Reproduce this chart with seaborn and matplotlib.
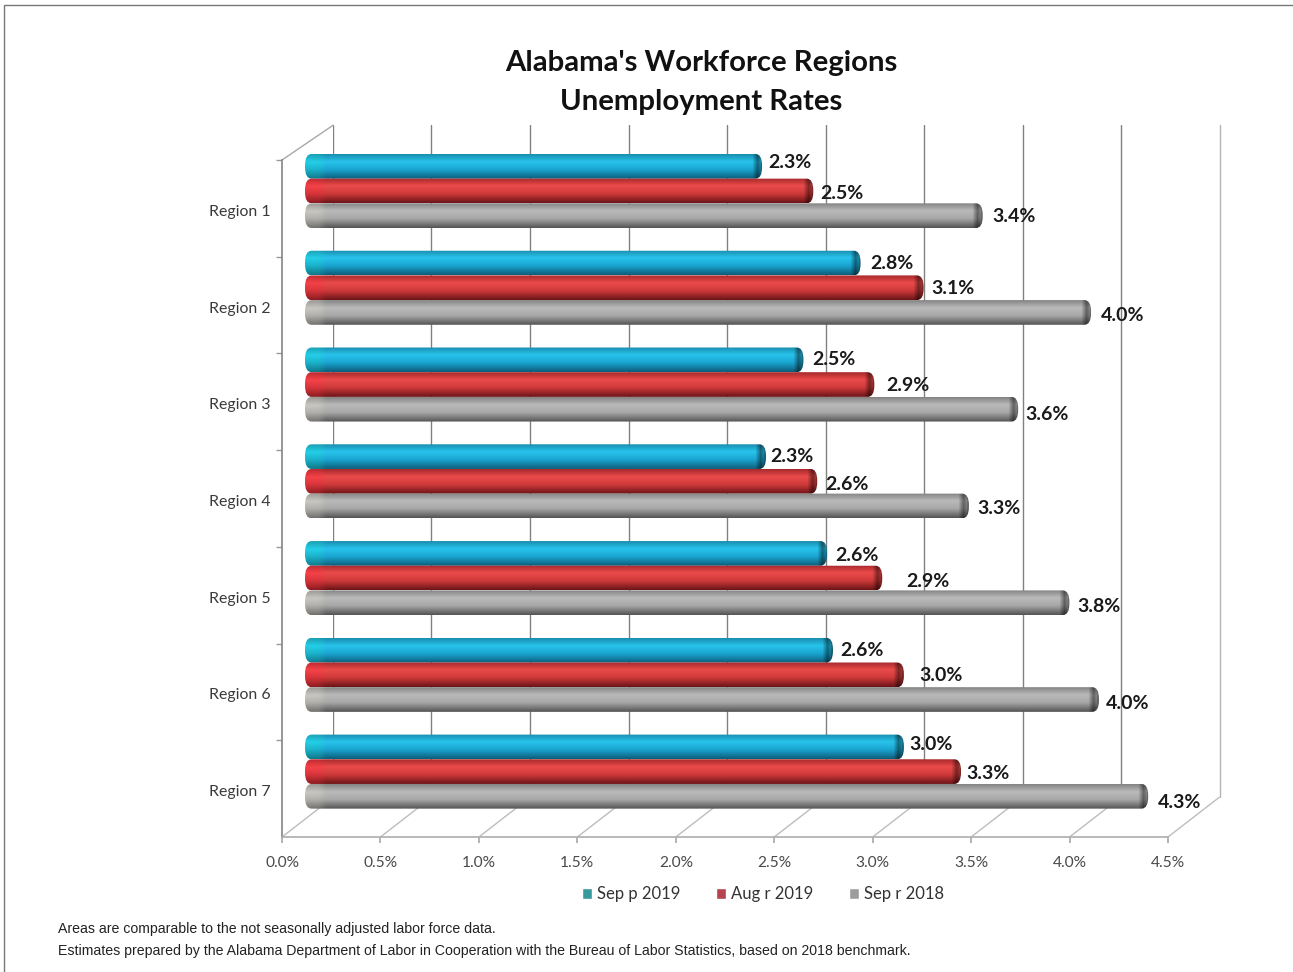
import numpy as np
import pandas as pd
import matplotlib
matplotlib.use('Agg')
import matplotlib.pyplot as plt
from matplotlib.colors import to_rgb
from matplotlib.patches import FancyBboxPatch, Rectangle
from matplotlib.transforms import ScaledTranslation
import seaborn as sns

regions = ['Region 1', 'Region 2', 'Region 3', 'Region 4', 'Region 5', 'Region 6', 'Region 7']
series = ['Sep p 2019', 'Aug r 2019', 'Sep r 2018']

# bar lengths as drawn in the picture, they differ a bit from the printed labels
sep_2019 = [2.32, 2.82, 2.53, 2.34, 2.65, 2.68, 3.04]
aug_2019 = [2.58, 3.14, 2.89, 2.60, 2.93, 3.04, 3.33]
sep_2018 = [3.44, 3.99, 3.62, 3.37, 3.88, 4.03, 4.28]

sep_2019_labels = ['2.3%', '2.8%', '2.5%', '2.3%', '2.6%', '2.6%', '3.0%']
aug_2019_labels = ['2.5%', '3.1%', '2.9%', '2.6%', '2.9%', '3.0%', '3.3%']
sep_2018_labels = ['3.4%', '4.0%', '3.6%', '3.3%', '3.8%', '4.0%', '4.3%']

x_ticks = [0.0, 0.5, 1.0, 1.5, 2.0, 2.5, 3.0, 3.5, 4.0, 4.5]

# hand placed data labels (pixels from the bar end, Excel moved them around)
nudge_x = [[6, 10, 9, 4, 8, 7, 5], [7, 8, 12, 8, 24, 15, 5], [10, 10, 7, 8, 8, 7, 10]]
nudge_y = [[-4, 0, 0, 0, 2, 0, -2], [3, 1, 1, 3, 3, 1, 2], [1, 3, 5, 3, 4, 4, 6]]

legend_colors = ['#25a9ad', '#c9303f', '#9c9c9c']
# top edge, highlight, mid, bottom edge, one ramp for each cylinder
ramps = [['#1a8fb0', '#27c3ec', '#1aa6d2', '#0d5f7c'],
         ['#a92a2c', '#ea4b4a', '#d03a3a', '#6e1518'],
         ['#858585', '#bababa', '#a8a8a8', '#565656']]
left_tints = ['#1cc0c4', '#e0303c', '#bdb9b0']

W, H = 1293, 972


def px_axes(fig, x0, x1, y0, y1, z):
    return fig.add_axes([x0 / W, 1 - y1 / H, (x1 - x0) / W, (y1 - y0) / H], zorder=z)


sns.set_theme(style='white')
plt.rcParams['font.family'] = ['Lato', 'DejaVu Sans']

fig = plt.figure(figsize=(W / 100, H / 100), dpi=100, facecolor='white')
fig.add_artist(Rectangle((4 / W, -0.01), 1.02, 1 - 5 / H + 0.01, transform=fig.transFigure,
                         fill=False, edgecolor='#777777', linewidth=1.0))

# back wall
ax_wall = px_axes(fig, 333, 1219.5, 125, 797, 0)
ax_wall.set_xlim(0, 4.5)
ax_wall.set_xticks(x_ticks)
ax_wall.set_yticks([])
ax_wall.tick_params(labelbottom=False, length=0)
ax_wall.grid(axis='x', color='#808080', linewidth=1.0)
ax_wall.get_xgridlines()[-1].set_clip_on(False)
ax_wall.get_xgridlines()[-1].set_color('#b4b4b4')
sns.despine(ax=ax_wall, left=True, bottom=True)
ax_wall.patch.set_alpha(0)

# front frame with the ticks and the floor
ax_front = px_axes(fig, 282, 1168, 160, 837, 1)
ax_front.patch.set_alpha(0)
ax_front.set_xlim(0, 4.5)
ax_front.set_ylim(6.5, -0.5)
ax_front.set_xticks(x_ticks)
ax_front.set_xticklabels([f'{t:.1f}%' for t in x_ticks], fontsize=11.2, color='#4a4a4a')
ax_front.set_yticks(range(len(regions)))
ax_front.set_yticklabels(regions, fontsize=11.4, color='#3a3a3a')
ax_front.set_yticks(np.arange(-0.5, 6.5), minor=True)
ax_front.tick_params(axis='y', which='major', length=0, pad=8.5)
ax_front.tick_params(axis='y', which='minor', left=True, length=4, color='#999999')
ax_front.tick_params(axis='x', bottom=True, length=4, color='#aaaaaa', pad=10)
for label in ax_front.get_yticklabels():
    label.set_transform(label.get_transform() + ScaledTranslation(0, -2 / 100, fig.dpi_scale_trans))
sns.despine(ax=ax_front)
ax_front.spines['left'].set_color('#8a8a8a')
ax_front.spines['bottom'].set_color('#b0b0b0')
for t in x_ticks:
    ax_front.plot([t, t + 0.26], [6.5, 6.09], color='#bdbdbd', linewidth=1.0, clip_on=False)
ax_front.plot([0, 0.26], [-0.5, -0.86], color='#a8a8a8', linewidth=1.0, clip_on=False)

# bars
df = pd.DataFrame({
    'region': regions * 3,
    'series': np.repeat(series, len(regions)),
    'rate': sep_2019 + aug_2019 + sep_2018,
})
ax = px_axes(fig, 305, 1191.5, 142.6, 820, 2)
ax.patch.set_alpha(0)
sns.barplot(data=df, x='rate', y='region', hue='series', hue_order=series, palette=legend_colors,
            orient='h', width=0.765, gap=0, ax=ax, zorder=1)
ax.set_xlim(0, 4.5)
ax.set_ylim(6.5, -0.5)
ax.set_xlabel('')
ax.set_ylabel('')
ax.set_xticks([])
ax.set_yticks([])
sns.despine(ax=ax, left=True, bottom=True)

all_labels = [sep_2019_labels, aug_2019_labels, sep_2018_labels]
for s, container in enumerate(ax.containers):
    stops = np.array([to_rgb(c) for c in ramps[s]])
    tint = np.array(to_rgb(left_tints[s]))
    for i, bar in enumerate(container):
        x0, y0, w, h = bar.get_x(), bar.get_y(), bar.get_width(), bar.get_height()
        bar.set_visible(False)
        # cylinder shading: vertical ramp, soft tint at the near end, darker round cap at the far end
        cols = int(w * 197)
        pos = np.linspace(0, 1, 26)
        ramp = np.stack([np.interp(pos, [0, 0.3, 0.62, 1], stops[:, k]) for k in range(3)], axis=1)
        img = np.repeat(ramp[:, None, :], cols, axis=1)
        shade = 0.6 + 0.55 * (1 - np.abs(pos - 0.35))
        tinted = tint[None, None, :] * shade[:, None, None]
        blend = np.interp(np.arange(cols), [0, 13, 21], [0.5, 0.45, 0])[None, :, None]
        img = img * (1 - blend) + tinted * blend
        dim = np.interp(np.arange(cols), [cols - 11, cols - 6, cols - 3, cols - 1], [1, 0.55, 0.7, 0.5])
        img = img * dim[None, :, None]
        clip = FancyBboxPatch((x0, y0), w, h, boxstyle='round,pad=0,rounding_size=0.033',
                              mutation_aspect=3.6, transform=ax.transData, fill=False, edgecolor='none')
        ax.add_patch(clip)
        im = ax.imshow(np.clip(img, 0, 1), extent=[x0, x0 + w, y0 + h, y0], origin='upper',
                       aspect='auto', zorder=2, interpolation='bilinear')
        im.set_clip_path(clip)
        ax.annotate(all_labels[s][i], (x0 + w, y0 + h / 2), xytext=(nudge_x[s][i], -nudge_y[s][i]),
                    textcoords='offset pixels', ha='left', va='center', fontsize=14,
                    fontweight='bold', color='#1a1a1a', zorder=3, annotation_clip=False)
ax.set_xlim(0, 4.5)
ax.set_ylim(6.5, -0.5)

sns.move_legend(ax, 'center', bbox_to_anchor=(763 / W, 1 - 894 / H), bbox_transform=fig.transFigure,
                ncol=3, frameon=False, title=None, fontsize=12, handlelength=0.62, handleheight=0.62,
                handletextpad=0.3, columnspacing=2.13, labelcolor='#333333')

fig.text(701 / W, 1 - 63 / H, "Alabama's Workforce Regions", ha='center', va='center',
         fontsize=21.1, fontweight='bold', color='#111111')
fig.text(701 / W, 1 - 102 / H, 'Unemployment Rates', ha='center', va='center',
         fontsize=21.1, fontweight='bold', color='#111111')
fig.text(58 / W, 1 - 929 / H, 'Areas are comparable to the not seasonally adjusted labor force data.',
         family='Liberation Sans', fontsize=10.17, color='#222222', va='center')
fig.text(58 / W, 1 - 951 / H,
         'Estimates prepared by the Alabama Department of Labor in Cooperation with the Bureau of Labor Statistics, based on 2018 benchmark.',
         family='Liberation Sans', fontsize=10.17, color='#222222', va='center')

fig.savefig('out.png', dpi=100)
